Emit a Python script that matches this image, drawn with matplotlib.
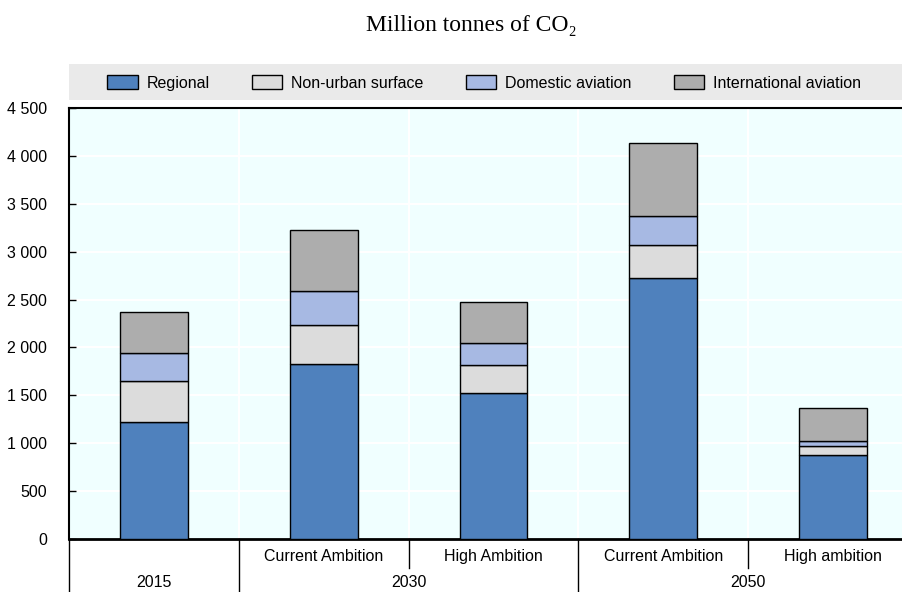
import numpy as np
import matplotlib.pyplot as plt
from matplotlib.patches import Rectangle, Patch
from matplotlib.lines import Line2D
from matplotlib import font_manager

names = {f.name for f in font_manager.fontManager.ttflist}
sans = 'Liberation Sans Narrow' if 'Liberation Sans Narrow' in names else 'Liberation Sans'
plt.rcParams['font.family'] = [sans, 'DejaVu Sans']

scenarios = ['', 'Current Ambition', 'High Ambition', 'Current Ambition', 'High ambition']
years = ['2015', '2030', '2050']
year_spans = [(0, 1), (1, 3), (3, 5)]
series = ['Regional', 'Non-urban surface', 'Domestic aviation', 'International aviation']
regional = [1220, 1825, 1520, 2725, 875]
non_urban = [430, 410, 295, 345, 95]
domestic = [290, 355, 230, 305, 52]
international = [430, 635, 430, 760, 345]
colors = ['#4F81BD', '#DCDCDC', '#A7B9E3', '#ADADAD']

fig = plt.figure(figsize=(9.03, 5.92), dpi=100)
ax = fig.add_axes([69 / 903, 53 / 592, 849 / 903, 431 / 592])
ax.set_facecolor('#F0FFFF')

x = np.arange(len(scenarios))
bottom = np.zeros(len(x))
for vals, c, name in zip([regional, non_urban, domestic, international], colors, series):
    ax.bar(x, vals, 0.4, bottom=bottom, color=c, edgecolor='black', linewidth=1, zorder=3, label=name)
    bottom += np.array(vals)

ax.set_xlim(-0.5, len(x) - 0.5)
ax.set_ylim(0, 4500)
ax.set_yticks(np.arange(0, 4501, 500))
ax.set_yticklabels([f'{v:,}'.replace(',', ' ') for v in range(0, 4501, 500)])
ax.set_xticks(np.arange(-0.5, len(x)), minor=False)
ax.set_xticklabels([])
ax.tick_params(axis='x', length=0)
ax.tick_params(axis='y', direction='in', length=5, width=1, labelsize=11.5, pad=16)
ax.grid(True, color='white', linewidth=1.5, zorder=0)
ax.spines['right'].set_visible(False)
ax.spines['left'].set_linewidth(1.5)
ax.spines['top'].set_linewidth(1.5)
ax.spines['bottom'].set_linewidth(2)

# category labels
tr = ax.get_xaxis_transform()
for i, lab in enumerate(scenarios):
    ax.text(i, -0.04, lab, transform=tr, ha='center', va='center', fontsize=11.5)
for (a, b), lab in zip(year_spans, years):
    ax.text((a + b - 1) / 2, -0.101, lab, transform=tr, ha='center', va='center', fontsize=11.5)
# separators
for xs in [-0.5, 0.5, 2.5]:
    ax.add_line(Line2D([xs, xs], [0, -0.13], transform=tr, color='black', linewidth=1, clip_on=False))
for xs in [1.5, 3.5]:
    ax.add_line(Line2D([xs, xs], [0, -0.068], transform=tr, color='black', linewidth=1, clip_on=False))

# legend band
fig.patches.append(Rectangle((69 / 903, 1 - 100 / 592), 1, 36 / 592, transform=fig.transFigure,
                             facecolor='#EAEAEA', edgecolor='none', zorder=0))
handles = [Patch(facecolor=c, edgecolor='black', linewidth=1) for c in colors]
fig.legend(handles, series, loc='center', bbox_to_anchor=(484 / 903, 1 - 83 / 592), ncol=4,
           frameon=False, fontsize=11.5, handlelength=1.9, handleheight=1.0, columnspacing=2.65,
           handletextpad=0.55)

fig.text(471 / 903, 1 - 25 / 592, 'Million tonnes of CO\u2082', ha='center', va='center',
         fontsize=17, family='Liberation Serif')

fig.savefig('out.png', dpi=100)
